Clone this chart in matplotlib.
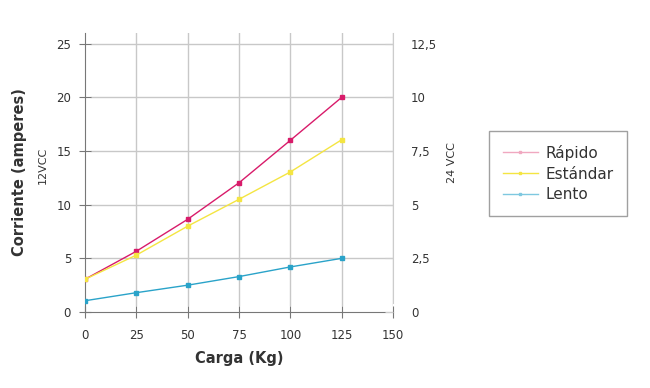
import matplotlib
matplotlib.use("Agg")
import matplotlib.pyplot as plt
from matplotlib.ticker import FixedLocator, FuncFormatter

carga = [0, 25, 50, 75, 100, 125]
rapido = [3.05, 5.66, 8.64, 12.04, 16.0, 20.0]
estandar = [3.05, 5.3, 8.0, 10.5, 13.05, 16.05]
lento = [1.05, 1.8, 2.5, 3.3, 4.2, 5.0]
series_names = ["Rápido", "Estándar", "Lento"]
colors = ["#d81b6a", "#f4e542", "#2aa3c9"]
legend_colors = ["#f0a8c0", "#f4e542", "#7ec8e0"]
x_ticks = [0, 25, 50, 75, 100, 125, 150]
y_ticks = [0, 5, 10, 15, 20, 25]
y2_ticks = [0, 2.5, 5, 7.5, 10, 12.5]

plt.rcParams['font.family'] = ['DejaVu Sans']
txt = "#333333"

fig = plt.figure(figsize=(6.5, 3.88), dpi=100)
ax = fig.add_axes([85/650, 76/388, 308/650, 279/388])
ax.set_xlim(0, 150)
ax.set_ylim(0, 26)

for xv in x_ticks[1:]:
    ax.axvline(xv, ymin=0.025, color="#c8c8c8", lw=1, zorder=0)
for yv in y_ticks[1:]:
    ax.axhline(yv, xmin=0.02, color="#c8c8c8", lw=1, zorder=0)

for vals, c in zip([rapido, estandar, lento], colors):
    ax.plot(carga, vals, color=c, lw=1, marker="s", ms=3.5, zorder=3)

ax.xaxis.set_major_locator(FixedLocator(x_ticks))
ax.yaxis.set_major_locator(FixedLocator(y_ticks))
ax.tick_params(axis="x", direction="inout", length=8, color="#777777", labelsize=8.5, labelcolor=txt, pad=8)
ax.tick_params(axis="y", direction="inout", length=8, color="#777777", labelsize=8.5, labelcolor=txt, pad=6)
for s in ["top", "right"]:
    ax.spines[s].set_visible(False)
ax.spines["left"].set_color("#777777")
ax.spines["bottom"].set_color("#777777")

ax.set_xlabel("Carga (Kg)", fontsize=10.5, fontweight="bold", color=txt, labelpad=7)
fig.text(20/650, 1 - 172/388, "Corriente (amperes)", rotation=90, fontsize=10.5, fontweight="bold",
         color=txt, ha="center", va="center")
fig.text(43/650, 1 - 165/388, "12VCC", rotation=90, fontsize=8, color=txt, ha="center", va="center")

ax2 = ax.twinx()
ax2.set_ylim(0, 13)
ax2.yaxis.set_major_locator(FixedLocator(y2_ticks))
ax2.yaxis.set_major_formatter(FuncFormatter(lambda v, p: ("%g" % v).replace(".", ",")))
ax2.tick_params(axis="y", direction="in", length=6, color="#cccccc", labelsize=8.5, labelcolor=txt, pad=13)
for s in ["top", "left", "bottom"]:
    ax2.spines[s].set_visible(False)
ax2.spines["right"].set_color("#cccccc")
ax2.spines["right"].set_bounds(0.4, 13)
fig.text(452/650, 1 - 163/388, "24 VCC", rotation=90, fontsize=8, color=txt, ha="center", va="center")

handles = [plt.Line2D([0], [0], color=c, lw=1, marker="s", ms=2) for c in legend_colors]
leg = fig.legend(handles, series_names, loc="upper left", bbox_to_anchor=(489/650, 1 - 131/388),
                 frameon=True, fancybox=False, fontsize=11, handlelength=2.3, borderpad=0.9,
                 labelspacing=0.38, handletextpad=0.5, borderaxespad=0)
leg.get_frame().set_edgecolor("#888888")
leg.get_frame().set_linewidth(1)
for t in leg.get_texts():
    t.set_color(txt)

fig.savefig("out.png", dpi=100)
